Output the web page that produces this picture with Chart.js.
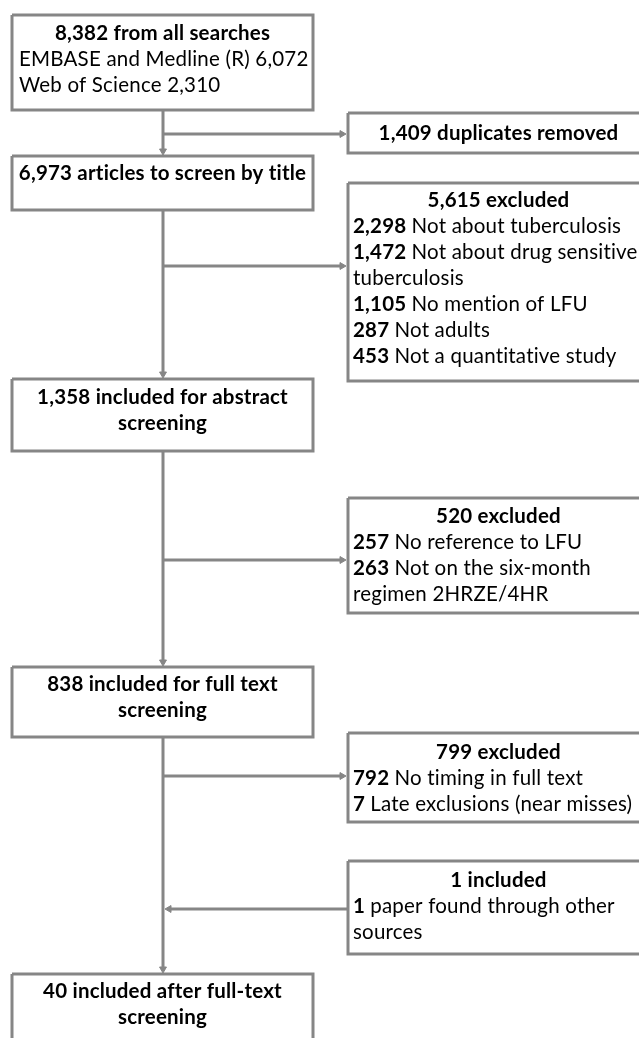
<!DOCTYPE html>
<html>
<head>
<meta charset="utf-8">
<script src="https://cdn.jsdelivr.net/npm/chart.js@4"></script>
<style>
  body { margin: 0; background: #fff; }
  canvas { display: block; }
</style>
</head>
<body>
<canvas id="flow" width="639" height="1038"></canvas>
<script>
// flow counts
const searchTotal = 8382;
const sourceNames = ["EMBASE and Medline (R)", "Web of Science"];
const sourceCounts = [6072, 2310];

const stageCounts = [6973, 1358, 838, 40];
const stageLabels = [
  "articles to screen by title",
  "included for abstract\nscreening",
  "included for full text\nscreening",
  "included after full-text\nscreening"
];

const sideCounts = [1409, 5615, 520, 799, 1];
const sideLabels = ["duplicates removed", "excluded", "excluded", "excluded", "included"];
const reasonCounts = [[], [2298, 1472, 1105, 287, 453], [257, 263], [792, 7], [1]];
const reasonLabels = [
  [],
  ["Not about tuberculosis", "Not about drug sensitive\ntuberculosis", "No mention of LFU", "Not adults", "Not a quantitative study"],
  ["No reference to LFU", "Not on the six-month\nregimen 2HRZE/4HR"],
  ["No timing in full text", "Late exclusions (near misses)"],
  ["paper found through other\nsources"]
];

// layout (pixels in the 639x1038 frame)
const GRAY = "#868686";
const FONT = "Lato";
const fontSize = 20.5;
const lineH = 26;
const leftX = [12, 313];
const rightX = [348, 649];
const spineX = 163;
const leftBoxes = [
  { top: 15, bottom: 110, firstLine: 33 },
  { top: 156, bottom: 210, firstLine: 173 },
  { top: 379, bottom: 451, firstLine: 397 },
  { top: 667, bottom: 737, firstLine: 684 },
  { top: 974, bottom: 1080, firstLine: 991 }
];
const rightBoxes = [
  { top: 113, bottom: 153, firstLine: 133, arrowY: 134 },
  { top: 183, bottom: 381, firstLine: 200, arrowY: 266 },
  { top: 498, bottom: 613, firstLine: 516, arrowY: 560 },
  { top: 733, bottom: 822, firstLine: 752, arrowY: 776 },
  { top: 861, bottom: 954, firstLine: 880, arrowY: 909 }
];
const headR = 4;

const fmt = (n) => n.toLocaleString("en-US");

const rect = (x, b) => [
  { x: x[0], y: b.top }, { x: x[1], y: b.top }, { x: x[1], y: b.bottom },
  { x: x[0], y: b.bottom }, { x: x[0], y: b.top }
];

const lineSet = (pts) => ({
  data: pts, showLine: true, borderColor: GRAY, borderWidth: 3,
  pointRadius: 0, fill: false, tension: 0, borderCapStyle: "butt"
});

const datasets = [];
leftBoxes.forEach((b) => datasets.push(lineSet(rect(leftX, b))));
rightBoxes.forEach((b) => datasets.push(lineSet(rect(rightX, b))));

// spine between stacked boxes, arrows pointing down
const heads = [];
for (let i = 0; i < leftBoxes.length - 1; i++) {
  const from = leftBoxes[i].bottom;
  const to = leftBoxes[i + 1].top - 1;
  datasets.push(lineSet([{ x: spineX, y: from }, { x: spineX, y: to - headR }]));
  heads.push({ x: spineX, y: to - headR, r: 180 });
}
// side branches: the last one feeds back into the spine
rightBoxes.forEach((b, i) => {
  if (i < rightBoxes.length - 1) {
    const tip = rightX[0] - 2;
    datasets.push(lineSet([{ x: spineX, y: b.arrowY }, { x: tip - headR, y: b.arrowY }]));
    heads.push({ x: tip - headR, y: b.arrowY, r: 90 });
  } else {
    const tip = spineX + 2;
    datasets.push(lineSet([{ x: rightX[0], y: b.arrowY }, { x: tip + headR, y: b.arrowY }]));
    heads.push({ x: tip + headR, y: b.arrowY, r: 270 });
  }
});
datasets.push({
  data: heads.map((h) => ({ x: h.x, y: h.y })),
  showLine: false,
  pointStyle: "triangle",
  pointRadius: headR,
  pointRotation: heads.map((h) => h.r),
  backgroundColor: GRAY,
  borderColor: GRAY,
  borderWidth: 1
});

// text content per box: each line = {align, segs:[[text,bold]]}
const splitLines = (segsFirst, rest, align) => {
  // wrapped tail lines are plain text
  const parts = rest.split("\n");
  const out = [{ align, segs: segsFirst.concat([[parts[0], false]]) }];
  parts.slice(1).forEach((p) => out.push({ align, segs: [[p, false]] }));
  return out;
};

const leftText = [];
leftText.push([
  { align: "center", segs: [[fmt(searchTotal) + " from all searches", true]] },
  ...sourceNames.map((n, i) => ({ align: "left", segs: [[n + " " + fmt(sourceCounts[i]), false]] }))
]);
stageCounts.forEach((c, i) => {
  leftText.push((fmt(c) + " " + stageLabels[i]).split("\n").map((t) => ({ align: "center", segs: [[t, true]] })));
});

const rightText = sideCounts.map((c, i) => {
  const lines = [{ align: "center", segs: [[fmt(c) + " " + sideLabels[i], true]] }];
  reasonCounts[i].forEach((rc, j) => {
    lines.push(...splitLines([[fmt(rc) + " ", true]], reasonLabels[i][j], "left"));
  });
  return lines;
});

const boxText = {
  id: "boxText",
  afterDatasetsDraw(chart) {
    const ctx = chart.ctx;
    const xs = chart.scales.x, ys = chart.scales.y;
    ctx.save();
    ctx.fillStyle = "#000";
    ctx.textBaseline = "middle";
    ctx.textAlign = "left";
    ctx.letterSpacing = "0.2px";
    const setFont = (bold) => { ctx.font = (bold ? "bold " : "") + fontSize + "px " + FONT; };
    const draw = (lines, xr, b, padL) => {
      const x0 = xs.getPixelForValue(xr[0]), x1 = xs.getPixelForValue(xr[1]);
      lines.forEach((ln, k) => {
        const y = ys.getPixelForValue(b.firstLine + k * lineH);
        const widths = ln.segs.map(([t, bold]) => { setFont(bold); return ctx.measureText(t).width; });
        const total = widths.reduce((a, w) => a + w, 0);
        let x = ln.align === "center" ? (x0 + x1) / 2 - total / 2 : x0 + padL;
        ln.segs.forEach(([t, bold], s) => {
          setFont(bold);
          ctx.fillText(t, x, y);
          x += widths[s];
        });
      });
    };
    leftText.forEach((lines, i) => draw(lines, leftX, leftBoxes[i], 7));
    rightText.forEach((lines, i) => draw(lines, rightX, rightBoxes[i], 5));
    ctx.restore();
  }
};

new Chart(document.getElementById("flow"), {
  type: "scatter",
  data: { datasets },
  options: {
    responsive: false,
    animation: false,
    devicePixelRatio: 1,
    events: [],
    layout: { padding: 0, autoPadding: false },
    plugins: { legend: { display: false }, tooltip: { enabled: false } },
    scales: {
      x: { type: "linear", min: 0, max: 639, display: false },
      y: { type: "linear", min: 0, max: 1038, reverse: true, display: false }
    }
  },
  plugins: [boxText]
});
</script>
</body>
</html>
